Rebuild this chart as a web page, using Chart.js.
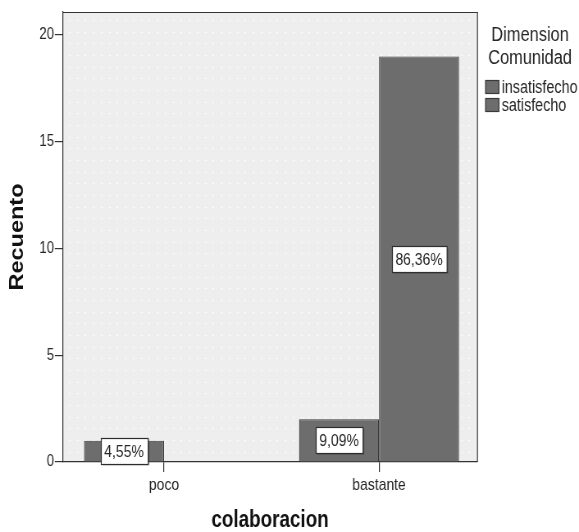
<!DOCTYPE html>
<html>
<head>
<meta charset="utf-8">
<script src="https://cdn.jsdelivr.net/npm/chart.js@4/dist/chart.umd.min.js"></script>
<style>
  html, body { margin: 0; padding: 0; background: #ffffff; overflow: hidden; }
  /* the chart is laid out on a wider canvas and shown condensed horizontally */
  canvas { display: block; }
</style>
</head>
<body>
<canvas id="chart" width="706" height="532" style="width:579px;height:532px"></canvas>
<script>
// Recuento de colaboracion por Dimension Comunidad
const categories = ['poco', 'bastante'];
const seriesNames = ['insatisfecho', 'satisfecho'];
const insatisfecho = [1, 2];
const satisfecho = [0, 19];
const yTicks = [0, 5, 10, 15, 20];
const legendTitle = ['Dimension', 'Comunidad'];
const xTitle = 'colaboracion';
const yTitle = 'Recuento';

const SANS = '"Liberation Sans", Arial, sans-serif';
const BAR_FILL = '#6d6d6d';
const BAR_EDGE = '#3a3a3a';
const INK = '#262626';

const total = insatisfecho.concat(satisfecho).reduce((a, b) => a + b, 0);
const pct = v => (v / total * 100).toFixed(2).replace('.', ',') + '%';

const toPoints = arr => arr.map((v, i) => ({ x: i, y: v }));

// light plot panel with rows of faint white dots
const panelPlugin = {
  id: 'panel',
  beforeDraw(chart) {
    const { ctx, chartArea: a } = chart;
    ctx.save();
    ctx.fillStyle = '#eeeeee';
    ctx.fillRect(a.left, a.top, a.right - a.left, a.bottom - a.top);
    ctx.fillStyle = 'rgba(255,255,255,0.9)';
    for (let y = a.top + 8; y < a.bottom - 2; y += 11.67) {
      for (let x = a.left + 7; x < a.right - 3; x += 9.75) {
        ctx.fillRect(Math.round(x), Math.round(y), 2, 1);
      }
    }
    ctx.restore();
  },
  afterDraw(chart) {
    // closing top and right edges of the frame
    const { ctx, chartArea: a } = chart;
    ctx.save();
    ctx.strokeStyle = '#333333';
    ctx.lineWidth = 1.2;
    ctx.beginPath();
    ctx.moveTo(a.left, a.top + 0.5);
    ctx.lineTo(a.right + 0.5, a.top + 0.5);
    ctx.lineTo(a.right + 0.5, a.bottom);
    ctx.stroke();
    ctx.restore();
  }
};

// boxed percentage labels centred on each bar
const labelPlugin = {
  id: 'pctLabels',
  afterDatasetsDraw(chart) {
    const { ctx } = chart;
    ctx.save();
    ctx.font = '17px ' + SANS;
    ctx.textAlign = 'center';
    ctx.textBaseline = 'middle';
    chart.data.datasets.forEach((ds, di) => {
      const meta = chart.getDatasetMeta(di);
      meta.data.forEach((bar, i) => {
        const v = ds.data[i].y;
        if (!v) return;
        const { x, y, base } = bar.getProps(['x', 'y', 'base'], true);
        const cy = (y + base) / 2;
        const text = pct(v);
        const w = ctx.measureText(text).width + 9;
        const h = 26;
        const bx = Math.round(x - w / 2) + 0.5;
        const by = Math.round(cy - h / 2) + 0.5;
        ctx.fillStyle = 'rgba(0,0,0,0.25)';
        ctx.fillRect(bx + 1.5, by + 1, w, h);
        ctx.fillStyle = '#ffffff';
        ctx.fillRect(bx, by, w, h);
        ctx.strokeStyle = '#2e2e2e';
        ctx.lineWidth = 1.2;
        ctx.strokeRect(bx, by, w, h);
        ctx.fillStyle = INK;
        ctx.fillText(text, x, cy + 1);
      });
    });
    ctx.restore();
  }
};

// legend panel on the right with a two-line title
const legendPlugin = {
  id: 'sideLegend',
  afterDraw(chart) {
    const { ctx, chartArea: a } = chart;
    const cx = (a.right + chart.width) / 2 + 2.5;
    ctx.save();
    ctx.fillStyle = INK;
    ctx.textAlign = 'center';
    ctx.textBaseline = 'middle';
    ctx.font = '20px ' + SANS;
    legendTitle.forEach((line, i) => ctx.fillText(line, cx, 35 + i * 23));
    ctx.font = '17.5px ' + SANS;
    ctx.textAlign = 'left';
    chart.data.datasets.forEach((ds, i) => {
      const y = 80 + i * 18;
      ctx.fillStyle = ds.backgroundColor;
      ctx.fillRect(a.right + 10, y, 17, 14);
      ctx.strokeStyle = ds.borderColor;
      ctx.lineWidth = 1.2;
      ctx.strokeRect(a.right + 10.5, y + 0.5, 16, 13);
      ctx.fillStyle = INK;
      ctx.fillText(ds.label, a.right + 30, y + 8);
    });
    ctx.restore();
  }
};

new Chart(document.getElementById('chart'), {
  type: 'bar',
  data: {
    datasets: [
      { label: seriesNames[0], data: toPoints(insatisfecho) },
      { label: seriesNames[1], data: toPoints(satisfecho) }
    ].map(ds => Object.assign(ds, {
      backgroundColor: BAR_FILL,
      borderColor: BAR_EDGE,
      borderWidth: 1.2,
      borderSkipped: 'bottom',
      categoryPercentage: 0.744,
      barPercentage: 1
    }))
  },
  options: {
    responsive: false,
    devicePixelRatio: 1,
    animation: false,
    layout: { padding: { top: 12, right: 124.3, left: 0, bottom: 0 } },
    plugins: {
      legend: { display: false },
      tooltip: { enabled: false }
    },
    scales: {
      x: {
        type: 'linear',
        offset: false,
        min: -0.4698,
        max: 1.4558,
        afterBuildTicks: s => { s.ticks = categories.map((_, i) => ({ value: i })); },
        afterFit: s => { s.height = 70; },
        ticks: {
          callback: v => categories[v],
          color: INK,
          font: { family: SANS, size: 17 },
          padding: 3,
          maxRotation: 0
        },
        grid: { offset: false, drawOnChartArea: false, drawTicks: true, tickLength: 10, color: '#333333', lineWidth: 1.2 },
        border: { display: true, color: '#333333', width: 1.2 },
        title: {
          display: true,
          text: xTitle,
          color: '#111111',
          font: { family: SANS, size: 23, weight: 'bold', lineHeight: 1 },
          padding: { top: 0, bottom: 0 }
        }
      },
      y: {
        min: 0,
        max: 21.08,
        afterBuildTicks: s => { s.ticks = yTicks.map(v => ({ value: v })); },
        afterFit: s => { s.width = 76.8; },
        ticks: {
          color: INK,
          font: { family: SANS, size: 16 },
          padding: 1
        },
        grid: { drawOnChartArea: false, drawTicks: true, tickLength: 10, color: '#333333', lineWidth: 1.2 },
        border: { display: true, color: '#333333', width: 1.2 },
        title: {
          display: true,
          text: yTitle,
          color: '#111111',
          font: { family: SANS, size: 23.5, weight: 'bold', lineHeight: 1.2 },
          padding: { top: 7, bottom: 0 }
        }
      }
    }
  },
  plugins: [panelPlugin, labelPlugin, legendPlugin]
});
</script>
</body>
</html>
